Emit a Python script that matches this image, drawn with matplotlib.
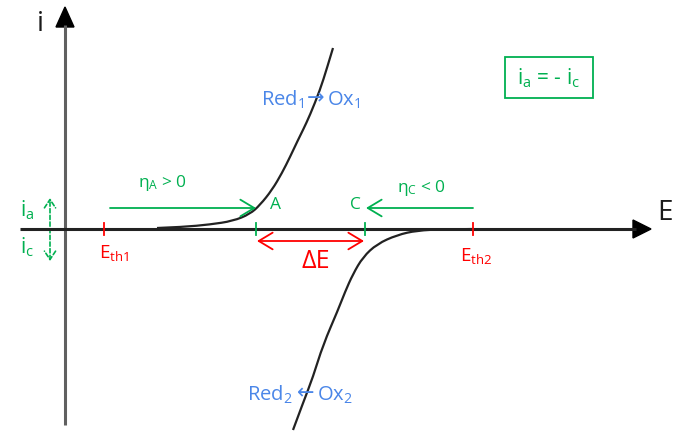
import matplotlib
matplotlib.use("Agg")
import matplotlib.pyplot as plt
from matplotlib.patches import FancyArrowPatch, Polygon, Rectangle, PathPatch
from matplotlib.path import Path

plt.rcParams['font.family'] = ['Open Sans', 'DejaVu Sans']
plt.rcParams['mathtext.fontset'] = 'custom'
plt.rcParams['mathtext.rm'] = 'Open Sans'
plt.rcParams['mathtext.it'] = 'Open Sans'
plt.rcParams['mathtext.fallback'] = 'stixsans'

# ---- data (diagram units: x = potential E, y = current i, screen-like) ----
# anodic branch Red1 -> Ox1
upper_E = [157, 183, 210, 233, 250, 260, 272, 282, 290, 298, 303, 310, 320, 327, 333]
upper_i = [228, 227, 224.5, 221, 214, 205, 190, 173, 157, 140, 130, 115, 90, 68, 48]
# cathodic branch Red2 <- Ox2
lower_E = [293, 303, 313, 323, 338, 345, 353, 363, 377, 397, 417, 443, 473]
lower_i = [430, 403, 377, 345, 310, 292, 274, 257, 244, 235, 230.5, 229.3, 229]

E_th1, E_th2 = 104, 473
E_A, E_C = 256, 365
axis_y, axis_x = 229, 65

GREEN = '#00b050'
RED = '#ff0000'
BLUE = '#4a86e8'


def smooth_path(xs, ys):
    """Quadratic B-spline style path through the read points (render-only smoothing)."""
    pts = list(zip(xs, ys))
    verts = [pts[0]]
    codes = [Path.MOVETO]
    n = len(pts)
    for k in range(1, n - 2):
        mid = ((pts[k][0] + pts[k + 1][0]) / 2, (pts[k][1] + pts[k + 1][1]) / 2)
        verts += [pts[k], mid]
        codes += [Path.CURVE3, Path.CURVE3]
    verts += [pts[n - 2], pts[n - 1]]
    codes += [Path.CURVE3, Path.CURVE3]
    return Path(verts, codes)


fig = plt.figure(figsize=(6.73, 4.33), dpi=100)
ax = fig.add_axes([0, 0, 1, 1])
ax.set_xlim(0, 673)
ax.set_ylim(433, 0)
ax.axis('off')

# axes
ax.plot([axis_x, axis_x], [425, 25], color='#606060', lw=2.2, solid_capstyle='butt')
ax.add_patch(Polygon([[axis_x - 9, 27], [axis_x + 9, 27], [axis_x, 7]], closed=True, color='black'))
ax.plot([20, 636], [axis_y, axis_y], color='#222222', lw=2.2, solid_capstyle='butt')
ax.add_patch(Polygon([[633, axis_y - 9], [633, axis_y + 9], [651, axis_y]], closed=True, color='black'))
ax.text(40, 24, 'i', fontsize=20, color='#1a1a1a', ha='center', va='center')
ax.text(665, 213, 'E', fontsize=20, color='#1a1a1a', ha='center', va='center')

# curves
ax.add_patch(PathPatch(smooth_path(upper_E, upper_i), fill=False, edgecolor='#222222', lw=1.6))
ax.add_patch(PathPatch(smooth_path(lower_E, lower_i), fill=False, edgecolor='#222222', lw=1.6))

# ticks
for x in (E_th1, E_th2):
    ax.plot([x, x], [axis_y - 6, axis_y + 6], color=RED, lw=1.3)
for x in (E_A, E_C):
    ax.plot([x, x], [axis_y - 6, axis_y + 6], color=GREEN, lw=1.3)

ax.text(E_th1 + 10, 253, r'E$_{\mathrm{th1}}$', fontsize=13.5, color=RED, ha='center', va='center')
ax.text(E_th2 + 3, 256, r'E$_{\mathrm{th2}}$', fontsize=13.5, color=RED, ha='center', va='center')
ax.text(275, 205, 'A', fontsize=12.5, color=GREEN, ha='center', va='center')
ax.text(355, 205, 'C', fontsize=12.5, color=GREEN, ha='center', va='center')

# overpotential arrows
ax.add_patch(FancyArrowPatch((110, 208), (256, 208), arrowstyle='->,head_length=10,head_width=6',
                             color=GREEN, lw=1.3, shrinkA=0, shrinkB=0))
ax.add_patch(FancyArrowPatch((473, 208), (366, 208), arrowstyle='->,head_length=10,head_width=6',
                             color=GREEN, lw=1.3, shrinkA=0, shrinkB=0))
ax.text(162, 183, r'η$_{\mathrm{A}}$ > 0', fontsize=12.5, color=GREEN, ha='center', va='center')
ax.text(421, 188, r'η$_{\mathrm{C}}$ < 0', fontsize=12.5, color=GREEN, ha='center', va='center')

# delta E
ax.add_patch(FancyArrowPatch((257, 241), (364, 241), arrowstyle='<->,head_length=10,head_width=6',
                             color=RED, lw=1.3, shrinkA=0, shrinkB=0))
ax.text(316, 262, 'ΔE', fontsize=18, color=RED, ha='center', va='center')

# reactions
ax.text(304, 100, r'Red$_{\mathrm{1}}$', fontsize=14.5, color=BLUE, ha='right', va='center')
ax.text(316, 98, '→', fontsize=15, color=BLUE, ha='center', va='center', family=['DejaVu Sans'])
ax.text(327, 100, r'Ox$_{\mathrm{1}}$', fontsize=14.5, color=BLUE, ha='left', va='center')
ax.text(293, 395, r'Red$_{\mathrm{2}}$', fontsize=14.5, color=BLUE, ha='right', va='center')
ax.text(306, 393, '←', fontsize=15, color=BLUE, ha='center', va='center', family=['DejaVu Sans'])
ax.text(317, 395, r'Ox$_{\mathrm{2}}$', fontsize=14.5, color=BLUE, ha='left', va='center')

# box
ax.add_patch(Rectangle((505, 57), 88, 41, fill=False, edgecolor=GREEN, lw=1.3))
ax.text(549, 78, r'i$_{\mathrm{a}}$ = - i$_{\mathrm{c}}$', fontsize=15, color=GREEN, ha='center', va='center')

# left dashed double arrow
ax.add_patch(FancyArrowPatch((50, 261), (50, 198), arrowstyle='<->,head_length=6,head_width=4',
                             color=GREEN, lw=1.2, linestyle=(0, (2.5, 1.5)), shrinkA=0, shrinkB=0))
ax.text(27, 210, r'i$_{\mathrm{a}}$', fontsize=15, color=GREEN, ha='center', va='center')
ax.text(27, 247, r'i$_{\mathrm{c}}$', fontsize=15, color=GREEN, ha='center', va='center')

fig.savefig('out.png', dpi=100)
